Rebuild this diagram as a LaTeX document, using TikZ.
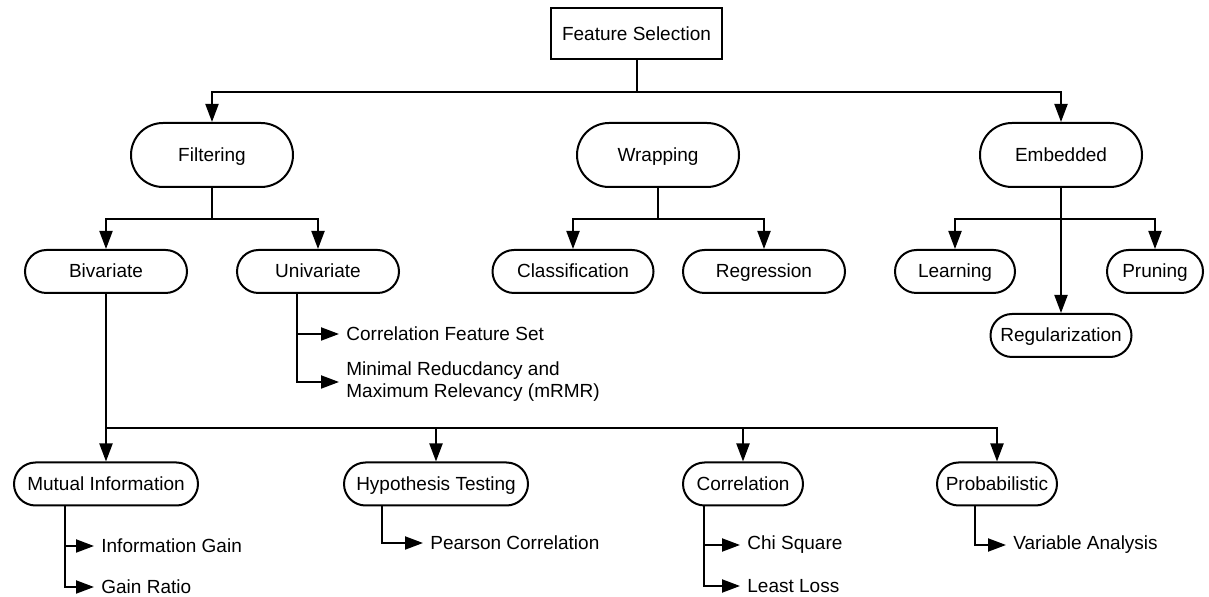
\documentclass[tikz,border=0pt]{standalone}
\usepackage{fontspec}
\setmainfont{Liberation Sans}
\usetikzlibrary{arrows.meta,shapes.misc}
\pgfdeclarelayer{background}
\pgfsetlayers{background,main}
\tikzset{
  pill/.style={rounded rectangle,draw,line width=1pt,minimum height=21.5pt,inner sep=2pt,
    text height=1.6ex,text depth=.4ex},
  tall/.style={minimum height=32pt,minimum width=85pt},
  leaf/.style={anchor=west,inner sep=3.5pt,align=left},
  link/.style={->,line width=1pt},
  >={Triangle[length=9pt,width=6.5pt]}
}
\newcommand{\Pill}[4]% pos, name, options, text
{\node[pill,#3] (#2) at (#1) {#4};}
\newcommand{\Leaf}[3]% pos, name, text
{\node[leaf] (#2) at (#1) {#3};}
\newcommand{\Branch}[3]% from, to, drop
{ \begin{pgfonlayer}{background}
    \draw[link] (#1.south) -- ++(0,#3) -| (#2.north);
  \end{pgfonlayer}}
\newcommand{\Tick}[3]% from, shift, leaf
{ \begin{pgfonlayer}{background}
    \draw[link] ([xshift=#2]#1.south) |- (#3.west);
  \end{pgfonlayer}}
\begin{document}
\begin{tikzpicture}[x=0.5pt,y=-0.5pt,font=\fontsize{9.5}{11}\selectfont]
        \useasboundingbox (0,0) rectangle (1209,597);
        \node[draw,line width=1pt,minimum width=85.5pt,minimum height=25.5pt] (FS) at (636.5,33.5) {Feature Selection};
        \Pill{212,155}{Filt}{tall}{Filtering}
        \Pill{658,155}{Wrap}{tall}{Wrapping}
        \Pill{1061,155}{Emb}{tall}{Embedded}
        \Pill{106,271.5}{Biv}{minimum width=85pt}{Bivariate}
        \Pill{318,271.5}{Uni}{minimum width=85pt}{Univariate}
        \Pill{573,271.5}{Cls}{minimum width=84.5pt}{Classification}
        \Pill{764,271.5}{Reg}{minimum width=85pt}{Regression}
        \Pill{955,271.5}{Lrn}{minimum width=64pt}{Learning}
        \Pill{1155,271.5}{Prn}{minimum width=52pt}{Pruning}
        \Pill{1061,335.5}{Rglr}{minimum width=74.5pt}{Regularization}
        \Pill{106,484}{MI}{minimum width=96pt}{Mutual Information}
        \Pill{436,484}{Hyp}{minimum width=96pt}{Hypothesis Testing}
        \Pill{743,484}{Corr}{minimum width=64pt}{Correlation}
        \Pill{997,484}{Prob}{minimum width=64pt}{Probabilistic}
        \Leaf{339,334}{CFS}{Correlation Feature Set}
        \Leaf{339,382}{mRMR}{Minimal Reducdancy and\\Maximum Relevancy (mRMR)}
        \Leaf{94,546}{IG}{Information Gain}
        \Leaf{94,587}{GR}{Gain Ratio}
        \Leaf{423,543}{PC}{Pearson Correlation}
        \Leaf{740,545}{Chi}{Chi Square}
        \Leaf{740,586}{LL}{Least Loss}
        \Leaf{1006,545}{VA}{Variable Analysis}
        \Branch{FS}{Filt}{32}
        \Branch{FS}{Emb}{32}
        \Branch{Filt}{Biv}{31}
        \Branch{Filt}{Uni}{31}
        \Branch{Wrap}{Cls}{31}
        \Branch{Wrap}{Reg}{31}
        \Branch{Emb}{Lrn}{31}
        \Branch{Emb}{Prn}{31}
        \Branch{Emb}{Rglr}{31}
        \Branch{Biv}{MI}{134.5}
        \Branch{Biv}{Hyp}{134.5}
        \Branch{Biv}{Corr}{134.5}
        \Branch{Biv}{Prob}{134.5}
        \Tick{Uni}{-10.5pt}{CFS}
        \Tick{Uni}{-10.5pt}{mRMR}
        \Tick{MI}{-20.5pt}{IG}
        \Tick{MI}{-20.5pt}{GR}
        \Tick{Hyp}{-27pt}{PC}
        \Tick{Corr}{-19.5pt}{Chi}
        \Tick{Corr}{-19.5pt}{LL}
        \Tick{Prob}{-11pt}{VA}
      \end{tikzpicture}
\end{document}
